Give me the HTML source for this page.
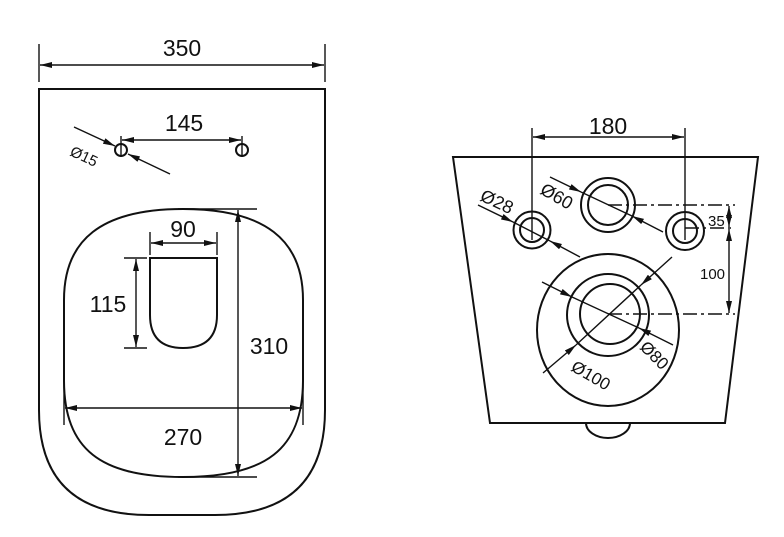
<!DOCTYPE html>
<html><head><meta charset="utf-8"><style>
html,body{margin:0;padding:0;background:#fff;width:784px;height:537px;overflow:hidden}
svg text{font-family:"Liberation Sans",Arial,sans-serif;fill:#111}
</style></head><body>
<svg width="784" height="537" viewBox="0 0 784 537" xmlns="http://www.w3.org/2000/svg">
<defs>
<marker id="a" viewBox="0 0 12 6" refX="12" refY="3" markerWidth="12" markerHeight="6" orient="auto-start-reverse" markerUnits="userSpaceOnUse"><path d="M0,0 L12,3 L0,6 z" fill="#111"/></marker>
</defs>
<g stroke="#111" fill="none" stroke-width="2">
<path d="M39,89 H325 V410 Q325,515 215,515 H149 Q39,515 39,410 Z"/>
<path d="M183,209 C265,209 303,240 303,300 V380 C303,450 265,477 183,477 C101,477 64,450 64,380 V300 C64,240 101,209 183,209 Z"/>
<path d="M150,258 H217 V315 Q217,348 183,348 Q150,348 150,315 Z"/>
<circle cx="121" cy="150" r="6"/><circle cx="242" cy="150" r="6"/>
</g>
<g stroke="#111" stroke-width="1.4" fill="none">
<line x1="121" y1="136" x2="121" y2="157"/><line x1="242" y1="136" x2="242" y2="157"/>
<line x1="39" y1="44" x2="39" y2="82"/><line x1="325" y1="44" x2="325" y2="82"/>
<line x1="40" y1="65" x2="324" y2="65" marker-start="url(#a)" marker-end="url(#a)"/>
<line x1="122" y1="140" x2="241" y2="140" marker-start="url(#a)" marker-end="url(#a)"/>
<line x1="74" y1="127" x2="115" y2="146" marker-end="url(#a)"/>
<line x1="170" y1="174" x2="128" y2="154" marker-end="url(#a)"/>
<line x1="150" y1="232" x2="150" y2="255"/><line x1="217" y1="232" x2="217" y2="255"/>
<line x1="151" y1="243" x2="216" y2="243" marker-start="url(#a)" marker-end="url(#a)"/>
<line x1="124" y1="258" x2="147" y2="258"/><line x1="124" y1="348" x2="147" y2="348"/>
<line x1="136" y1="259" x2="136" y2="347" marker-start="url(#a)" marker-end="url(#a)"/>
<line x1="178" y1="209" x2="257" y2="209"/><line x1="178" y1="477" x2="257" y2="477"/>
<line x1="238" y1="210" x2="238" y2="476" marker-start="url(#a)" marker-end="url(#a)"/>
<line x1="64" y1="370" x2="64" y2="425"/><line x1="303" y1="370" x2="303" y2="425"/>
<line x1="65" y1="408" x2="302" y2="408" marker-start="url(#a)" marker-end="url(#a)"/>
</g>
<text x="182" y="56" font-size="23" text-anchor="middle">350</text>
<text x="184" y="131" font-size="23" text-anchor="middle">145</text>
<text x="183" y="237" font-size="23" text-anchor="middle">90</text>
<text x="108" y="312" font-size="23" text-anchor="middle">115</text>
<text x="269" y="354" font-size="23" text-anchor="middle">310</text>
<text x="183" y="445" font-size="23" text-anchor="middle">270</text>
<text font-size="15" transform="translate(69,155) rotate(25)">Ø15</text>

<g stroke="#111" fill="none" stroke-width="2">
<path d="M453,157 H758 L725,423 H490 Z"/>
<path d="M586,423 A22,15 0 0 0 630,423"/>
<circle cx="532" cy="230" r="18.5"/><circle cx="532" cy="230" r="12"/>
<circle cx="685" cy="231" r="19"/><circle cx="685" cy="231" r="12"/>
<circle cx="608" cy="205" r="27"/><circle cx="608" cy="205" r="20"/>
<ellipse cx="608" cy="330" rx="71" ry="76"/>
<circle cx="608" cy="315" r="41"/><circle cx="610" cy="314" r="30"/>
</g>
<g stroke="#111" stroke-width="1.4" fill="none">
<line x1="532" y1="128" x2="532" y2="240"/><line x1="685" y1="128" x2="685" y2="240"/>
<line x1="533" y1="137" x2="684" y2="137" marker-start="url(#a)" marker-end="url(#a)"/>
<g stroke-dasharray="14,4,3,4">
<line x1="608" y1="205" x2="735" y2="205"/>
<line x1="685" y1="228" x2="735" y2="228"/>
<line x1="608" y1="314" x2="735" y2="314"/>
</g>
<line x1="729" y1="206" x2="729" y2="227" marker-start="url(#a)" marker-end="url(#a)"/>
<line x1="729" y1="229" x2="729" y2="313" marker-start="url(#a)" marker-end="url(#a)"/>
<line x1="478" y1="205" x2="513" y2="222" marker-end="url(#a)"/>
<line x1="513" y1="222" x2="550" y2="241"/>
<line x1="580" y1="257" x2="550" y2="241" marker-end="url(#a)"/>
<line x1="550" y1="177" x2="581" y2="192" marker-end="url(#a)"/>
<line x1="581" y1="192" x2="632" y2="216"/>
<line x1="663" y1="232" x2="632" y2="216" marker-end="url(#a)"/>
<line x1="542" y1="282" x2="572" y2="297" marker-end="url(#a)"/>
<line x1="673" y1="345" x2="639" y2="328" marker-end="url(#a)"/>
<line x1="572" y1="297" x2="639" y2="328"/>
<line x1="543" y1="373" x2="576" y2="345" marker-end="url(#a)"/>
<line x1="672" y1="257" x2="641" y2="285" marker-end="url(#a)"/>
<line x1="576" y1="345" x2="641" y2="285"/>
</g>
<text x="608" y="134" font-size="23" text-anchor="middle">180</text>
<text x="708" y="226" font-size="15">35</text>
<text x="700" y="279" font-size="15">100</text>
<text font-size="18" transform="translate(479,200) rotate(25)">Ø28</text>
<text font-size="18" transform="translate(539,193) rotate(30)">Ø60</text>
<text font-size="17" transform="translate(639,348) rotate(45)">Ø80</text>
<text font-size="17" transform="translate(570,370) rotate(30)">Ø100</text>
</svg>
</body></html>
